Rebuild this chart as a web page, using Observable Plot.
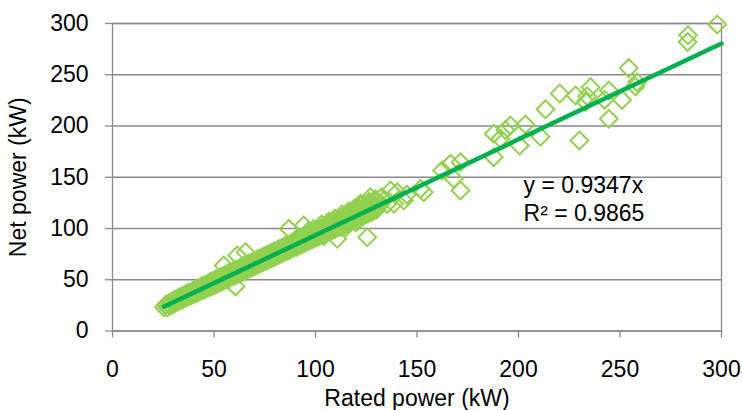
<!DOCTYPE html>
<html><head><meta charset="utf-8">
<script src="https://cdn.jsdelivr.net/npm/d3@7"></script>
<script src="https://cdn.jsdelivr.net/npm/@observablehq/plot@0.6"></script>
<style>
html,body{margin:0;padding:0;background:#fff}
#chart{width:742px;height:410px;overflow:hidden}
</style>
</head><body><div id="chart"></div>
<script>
// Rated power (kW) vs net power (kW)
const bandEdgeSamples = [
[25.3,23.2],[26.4,25.8],[27.0,22.9],[27.6,26.9],[28.6,24.9],[29.2,28.8],[29.9,26.1],[30.5,30.4],[31.1,27.6],[31.8,31.5],
[32.4,29.0],[33.0,32.9],[33.7,30.0],[34.3,34.1],[34.9,31.2],[35.6,35.4],[36.2,32.5],[36.8,36.9],[37.5,33.8],[38.1,37.4],
[38.7,34.6],[39.4,39.1],[40.0,35.8],[40.6,40.2],[41.3,36.9],[41.9,41.6],[42.5,38.0],[43.2,42.5],[43.8,39.4],[44.4,44.0],
[45.1,40.3],[45.7,45.1],[46.3,41.6],[47.0,46.3],[47.6,42.7],[48.2,47.9],[48.9,43.8],[49.5,49.0],[50.1,44.5],[50.8,50.2],
[51.4,46.0],[52.0,51.5],[52.7,47.3],[53.3,52.6],[53.9,48.4],[54.6,53.7],[55.2,49.7],[55.8,55.1],[56.5,50.6],[57.1,56.2],
[57.7,51.9],[58.4,57.3],[59.0,53.2],[59.6,58.8],[60.3,54.0],[60.9,59.9],[61.5,55.3],[62.2,61.0],[62.8,56.6],[63.4,62.3],
[64.1,57.5],[64.7,63.6],[65.3,58.9],[66.0,64.5],[66.6,60.0],[67.2,65.9],[67.9,61.2],[68.5,67.0],[69.1,62.4],[69.8,68.3],
[70.4,63.6],[71.0,69.4],[71.7,64.8],[72.3,70.6],[72.9,65.9],[73.6,71.9],[74.2,67.0],[74.8,73.0],[75.5,68.3],[76.1,74.3],
[76.7,69.5],[77.4,75.4],[78.0,70.6],[78.6,76.7],[79.3,71.8],[79.9,77.9],[80.5,73.0],[81.2,79.1],[81.8,74.2],[82.4,80.3],
[83.1,75.4],[83.7,81.5],[84.3,76.6],[85.0,82.8],[85.6,77.7],[86.2,84.0],[86.9,78.9],[87.5,85.2],[88.1,80.1],[88.8,86.4],
[89.4,81.3],[90.0,87.7],[90.7,82.3],[91.3,89.0],[91.9,83.5],[92.6,90.1],[93.2,84.7],[93.8,91.4],[94.5,85.8],[95.1,92.6],
[95.7,87.0],[96.4,93.9],[97.0,88.1],[97.6,95.2],[98.3,89.3],[98.9,96.5],[99.5,90.4],[100.2,97.6],[100.8,91.6],[101.4,99.0],
[102.1,92.8],[102.7,100.3],[103.3,93.9],[104.0,101.4],[104.6,95.0],[105.2,102.8],[105.9,96.3],[106.5,104.0],[107.1,97.2],[107.8,105.3],
[108.4,98.6],[109.0,106.6],[109.7,99.6],[110.3,107.7],[110.9,100.9],[111.6,109.0],[112.2,101.8],[112.8,110.3],[113.5,103.2],[114.1,111.4],
[114.7,104.1],[115.4,112.8],[116.0,105.5],[116.6,113.9],[117.3,106.6],[117.9,115.3],[118.5,107.6],[119.2,116.5],[119.8,108.9],[120.4,117.6],
[121.1,110.0],[121.7,118.9],[122.3,111.2],[123.0,120.0],[123.6,112.5],[124.2,121.5],[124.9,113.6],[125.5,122.6],[126.1,114.8],[126.8,124.0],
[127.4,116.0],[128.0,125.0],[128.7,117.3],[129.3,126.2],[130.0,118.4]
];
const bandCoreSamples = [
[30,28.6],[32,30.4],[34,32.6],[36,33.2],[38,36.2],[40,37.0],[42,40.1],[44,40.8],[46,43.9],[48,44.6],
[50,47.6],[52,48.3],[54,51.3],[56,52.0],[58,55.1],[60,55.8],[62,58.8],[64,59.5],[66,62.6],[68,63.3],
[70,66.4],[72,67.1],[74,70.2],[76,70.9],[78,74.0],[80,74.6],[82,77.8],[84,78.5],[86,81.6],[88,82.3],
[90,85.4],[92,86.0],[94,89.3],[96,90.0],[98,93.1],[100,93.7],[102,97.0],[104,97.4],[106,100.9],[108,101.6],
[110,104.6],[112,105.3],[114,108.4],[116,109.0],[118,112.3],[120,113.0],[122,116.2],[124,116.8],[126,119.9],[128,120.6],
[96.5,97.5],[99,99.5],[103,103.8],[106.5,106.9],[109.5,109.8],[113,113.5],[116.5,116.8],[119.5,119.9],[123,123.5],[126.5,126.0],
[129.5,128.5],[132.5,130.5],[115,101.5],[120,106.0],[104,92.5]
];
const scatterSamples = [
[86.9,99.7],[94.2,102.9],[110.7,90.0],[125.5,91.5],[61.4,73.7],[65.5,76.9],[60.6,43.5],[54.8,63.9],
[122.2,124.1],[127.0,130.5],[130.5,121.0],[132.0,124.5],[134.0,128.0],[135.3,124.0],[137.0,137.0],[138.6,124.1],
[140.2,135.4],[143.5,127.3],[145.0,133.0],[151.7,138.7],[153.3,135.4],[162.4,156.6],[166.5,163.1],[168.1,148.5],
[171.4,164.7],[171.4,137.1],[187.8,192.4],[187.8,169.6],[191.1,187.5],[193.5,196.0],[196.0,200.5],[200.6,181.0],
[203.4,201.5],[210.8,189.5],[213.3,216.3],[220.3,231.7],[228.1,229.8],[230.0,185.9],[233.8,229.0],[233.0,223.5],
[235.5,237.9],[242.4,225.5],[244.5,234.6],[244.5,207.0],[251.0,225.5],[254.3,256.5],[257.6,238.5],[258.4,242.7],
[283.3,282.0],[283.5,288.5],[297.9,299.0]
];
const xTicks = [0, 50, 100, 150, 200, 250, 300];
const yTicks = [0, 50, 100, 150, 200, 250, 300];
const xTitle = "Rated power (kW)";
const yTitle = "Net power (kW)";
const slope = 0.9347;
const rSquared = 0.9865;
const axisMax = 300;
const equationAt = [202.5, 153];

const data = [...bandEdgeSamples, ...bandCoreSamples, ...scatterSamples]
  .map(([rated, net]) => ({rated, net}));
const xStart = d3.min(data, d => d.rated);
const trend = [xStart, axisMax].map(r => ({rated: r, net: slope * r}));
const notes = [{rated: equationAt[0], net: equationAt[1], label: `y = ${slope}x\nR² = ${rSquared}`}];

const gray = "#8a8a8a";
const fs = 23;
const chart = Plot.plot({
  width: 742, height: 410,
  marginLeft: 112, marginRight: 21, marginTop: 23, marginBottom: 79.5,
  style: {fontFamily: "'Liberation Sans', Arial, sans-serif", fontSize: fs + "px", background: "#fff", color: "#000"},
  x: {domain: [0, axisMax]},
  y: {domain: [0, axisMax]},
  marks: [
    Plot.gridY(yTicks, {stroke: gray, strokeOpacity: 1, strokeWidth: 1.3}),
    Plot.frame({stroke: gray, strokeWidth: 1.3}),
    Plot.dot(data, {x: "rated", y: "net", symbol: "diamond2", r: 8, stroke: "#92D050", strokeWidth: 2, fill: "none"}),
    Plot.line(trend, {x: "rated", y: "net", stroke: "#00B050", strokeWidth: 4.5}),
    Plot.text(notes, {x: "rated", y: "net", text: "label", textAnchor: "start", lineAnchor: "top", lineHeight: 1.18, fontSize: fs, fill: "#000"}),
    Plot.axisX(xTicks, {tickSize: 7, tickPadding: 23, stroke: gray, strokeWidth: 1.3, fill: "#000", fontSize: fs,
      label: xTitle, labelAnchor: "center", labelOffset: 75, labelArrow: "none"}),
    Plot.axisY(yTicks, {tickSize: 7, tickPadding: 17, stroke: gray, strokeWidth: 1.3, fill: "#000", fontSize: fs,
      label: yTitle, labelAnchor: "center", labelOffset: 103, labelArrow: "none"})
  ]
});
document.getElementById("chart").appendChild(chart);
</script>
</body></html>
